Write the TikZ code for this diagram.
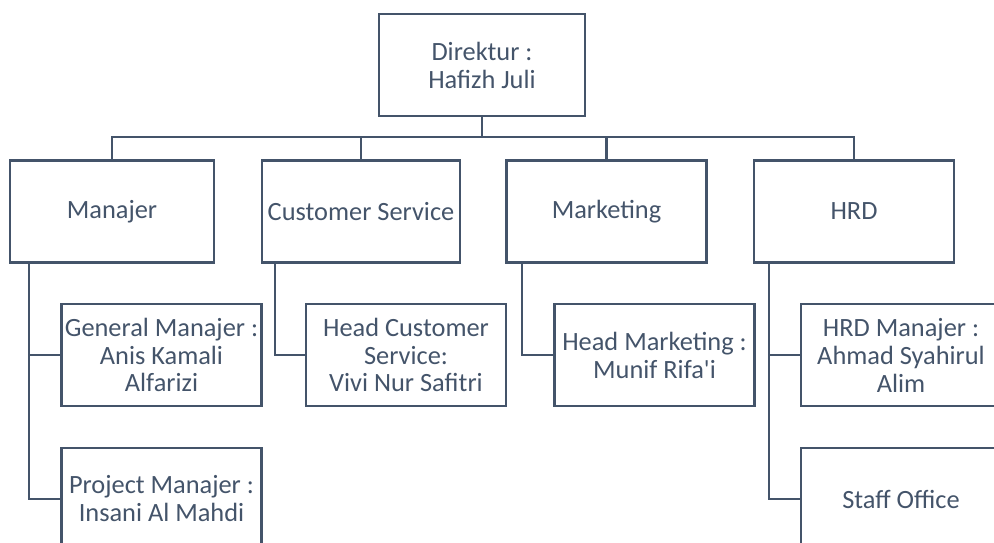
\documentclass[tikz,border=0pt]{standalone}
\usepackage{fontspec}
\setmainfont{Carlito}
\definecolor{slate}{HTML}{44546A}

\begin{document}
\begin{tikzpicture}[
        box/.style={draw=slate, line width=1.5pt, text=slate, align=center, inner sep=1pt,
            minimum width=4cm, minimum height=2.04cm, font=\fontsize{15}{15.9}\selectfont},
        link/.style={draw=slate, line width=1.2pt}
    ]
            \useasboundingbox (0,0) rectangle (19.88,-10.86);

            \node[box, minimum width=4.12cm] (dir) at (9.64, -1.30) {Direktur :\\Hafizh Juli};

            \node[box, minimum width=4.08cm] (man) at (2.24, -4.23) {Manajer};
            \node[box, minimum width=3.96cm] (cs) at (7.22, -4.23) {Customer Service};
            \node[box] (mkt) at (12.13, -4.23) {Marketing};
            \node[box] (hrd) at (17.08, -4.23) {HRD};

            \node[box] (gm) at (3.23, -7.10) {General Manajer :\\Anis Kamali\\Alfarizi};
            \node[box] (pm) at (3.23, -9.98) {Project Manajer :\\Insani Al Mahdi};
            \node[box] (hcs) at (8.12, -7.10) {Head Customer\\Service:\\Vivi Nur Safitri};
            \node[box] (hm) at (13.09, -7.10) {Head Marketing :\\Munif Rifa\textquotesingle i};
            \node[box] (hrdm) at (18.02, -7.10) {HRD Manajer :\\Ahmad Syahirul\\Alim};
            \node[box] (staff) at (18.02, -9.98) {Staff Office};

            \coordinate (bus) at (0, -2.74);

            % dir-bus
            \draw[link, line width=1.6pt] (dir.south) -- (dir.south |- bus);

            % bus-man-hrd
            \draw[link] (man.north) -- (man.north |- bus) -- (hrd.north |- bus) -- (hrd.north);
            \draw[link] (cs.north) -- (cs.north |- bus);
            \draw[link] (mkt.north) -- (mkt.north |- bus);

            % man-gm, man-pm
            \draw[link] ([xshift=0.4cm]man.south west) |- (pm.west);
            \draw[link] ([xshift=0.4cm]man.south west) |- (gm.west);

            % cs-hcs
            \draw[link] ([xshift=0.28cm]cs.south west) |- (hcs.west);

            % mkt-hm
            \draw[link] ([xshift=0.34cm]mkt.south west) |- (hm.west);

            % hrd-hrdm, hrd-staff
            \draw[link] ([xshift=0.32cm]hrd.south west) |- (staff.west);
            \draw[link] ([xshift=0.32cm]hrd.south west) |- (hrdm.west);
        \end{tikzpicture}
\end{document}
